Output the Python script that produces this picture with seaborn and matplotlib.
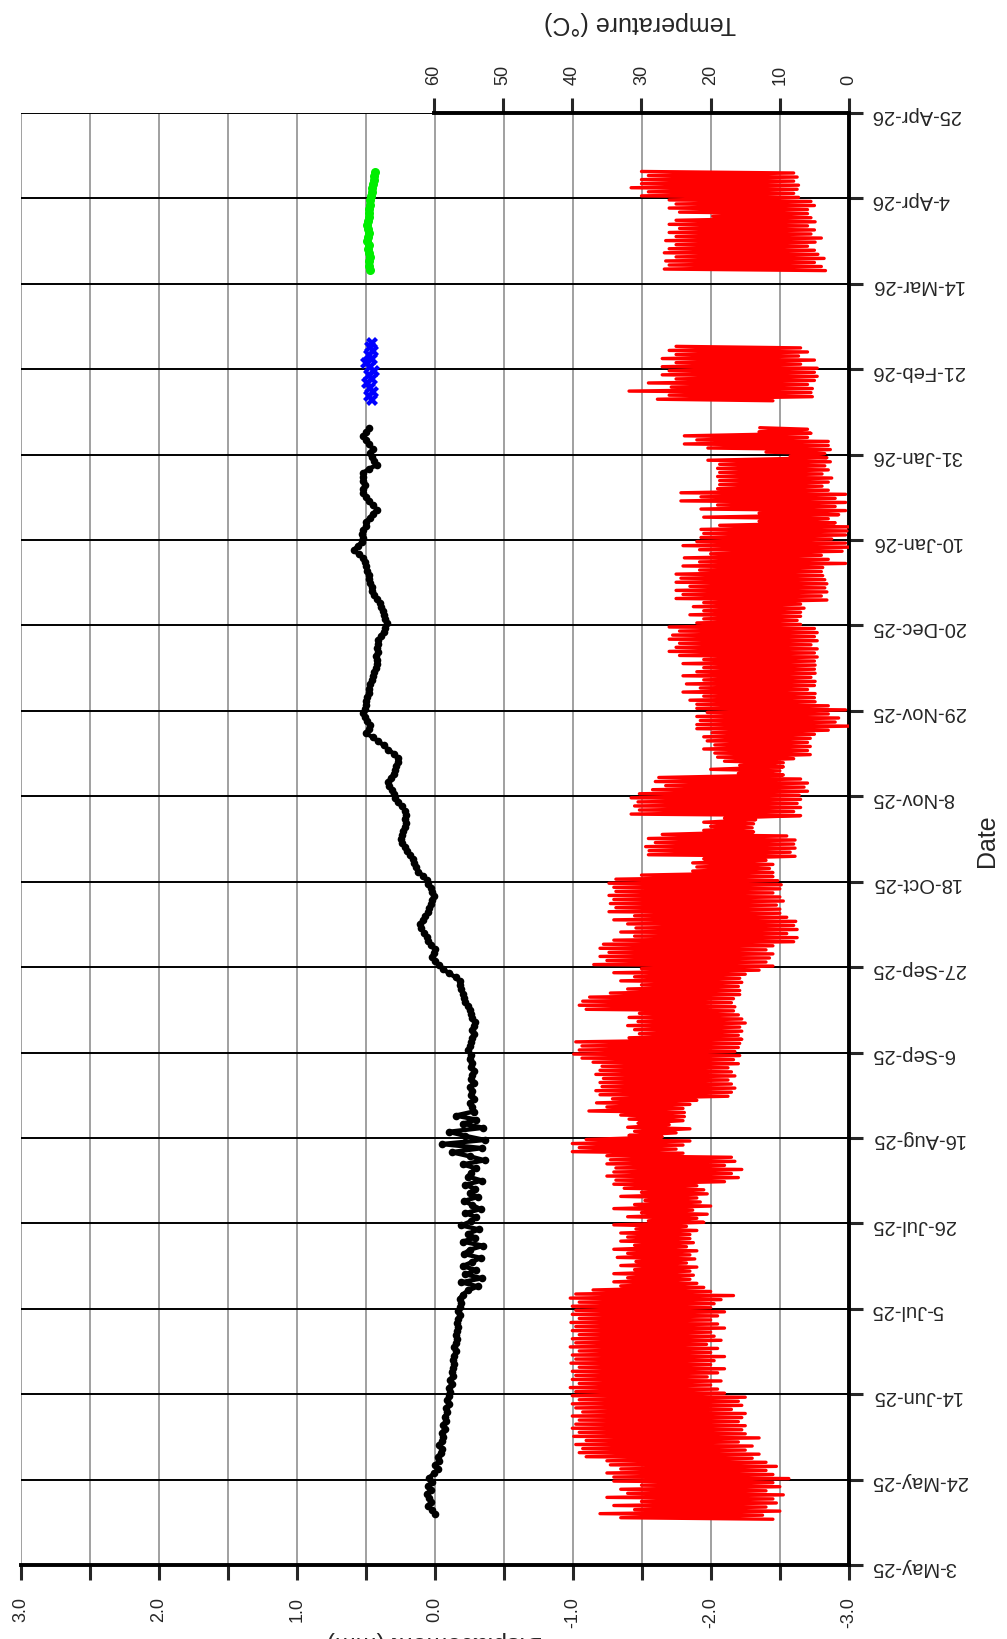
import numpy as np
import pandas as pd
import matplotlib
matplotlib.use("Agg")
import matplotlib.pyplot as plt
from matplotlib.ticker import FixedLocator, FuncFormatter
import matplotlib.dates as mdates
import seaborn as sns

# ---------------------------------------------------------------- data
# Date axis ticks (every 21 days)
date_ticks = pd.date_range("2025-05-03", periods=18, freq="21D")
disp_ticks = [-3.0, -2.5, -2.0, -1.5, -1.0, -0.5, 0.0, 0.5, 1.0, 1.5, 2.0, 2.5, 3.0]
temp_ticks = [0, 10, 20, 30, 40, 50, 60]

# Air temperature, daily minimum / maximum (deg C)
temp1_start = "2025-05-14"
temp1_max = [
    33, 36, 31, 34, 30, 35, 32, 33, 30, 34,
    34, 35, 33, 34.5, 35, 38, 39, 38.5, 39.5, 38,
    39.8, 39, 40, 39.5, 39, 40, 38.5, 39.5, 40, 39,
    40, 39.5, 40.3, 39, 40, 39.5, 40, 39, 40.2, 39.5,
    40, 39, 40.3, 39.5, 40, 39, 40, 39.5, 40.2, 39,
    40, 39.5, 40, 39, 40.3, 39.5, 37, 33, 34, 32,
    34, 31, 33, 30.8, 33.5, 32, 34, 31, 33, 32,
    33, 30.8, 34, 29, 32, 30, 34, 31, 29.5, 33,
    30, 32.5, 34, 33.7, 35, 34, 33.7, 35, 34.5, 35,
    40, 39, 40, 38, 31.8, 31, 32, 30.5, 31.8, 33,
    37.6, 35, 36.5, 34.2, 36, 36.6, 35.7, 36, 35.5, 36.6,
    36, 35.7, 37, 38.6, 39.8, 39, 38.6, 39.5, 31.8, 30.3,
    31, 32, 30.5, 31.8, 30.3, 38, 39, 38.5, 37.5, 34.5,
    32, 30, 33, 31, 34, 30, 36.9, 35, 36, 34.7,
    36, 35.5, 34, 31, 33, 30.8, 32, 34, 31, 34.7,
    33.7, 34.5, 34, 34.7, 33.7, 34, 34.7, 33.7, 30, 22.6,
    22, 22.6, 21, 29, 28.9, 29.4, 28, 29, 27, 21,
    20, 21, 18, 31.5, 30.3, 31, 30.5, 31.5, 30.3, 28.4,
    26.5, 28, 27.5, 16, 20, 15.8, 18, 19, 19.4, 21,
    19.4, 20.5, 21, 19.8, 22, 22, 21.5, 22, 20.5, 22,
    22, 23, 21, 24, 21.5, 23.5, 21, 24, 22, 21,
    24, 21, 24.5, 26, 25, 24.5, 26, 25.5, 24.5, 26,
    22, 21, 23, 21, 22.5, 21, 25, 24, 25, 23,
    25, 24.3, 25, 21.6, 24, 21.6, 23.8, 20, 21.6, 24,
    22, 21.4, 21, 21.4, 18.7, 13, 21, 13, 21.4, 19,
    24.3, 21.4, 24.3, 19, 18.7, 18.7, 19, 18.7, 19, 18.7,
    20.4, 8.5, 12, 20.4, 23.8, 22, 23.8, 13, 12.9,
]
temp1_min = [
    11, 12.5, 10, 12, 10.5, 11, 9.5, 12, 10, 11,
    8.7, 11, 12, 10.5, 12, 14, 13, 15, 14, 16,
    13, 15, 15.5, 15, 16, 15.5, 15, 17, 15.5, 16,
    15, 18, 19, 20, 18.5, 20.5, 19, 18, 20, 19.5,
    18, 20, 19, 20.6, 18.5, 19.5, 20, 18, 19, 20,
    19, 18, 20, 19.5, 18.5, 16.7, 20, 21, 22, 23,
    22.5, 23, 22, 23.5, 22.3, 23, 22, 23.5, 22.5, 23,
    23, 22, 23.5, 21, 22, 20.5, 22.6, 20, 21.5, 22,
    20.5, 21, 22, 18, 16, 17, 15.5, 18, 16.5, 17,
    24, 25, 24, 23, 27, 25, 23, 26, 24, 23.8,
    23.8, 24, 23, 22, 17.5, 17, 16.5, 17, 17.5, 16.5,
    17, 17.5, 16, 16.7, 15.8, 16.5, 16, 15.8, 15.5, 16,
    15.5, 15.8, 15, 15.5, 16, 16.7, 16.5, 17, 16.7, 15.8,
    15.8, 16, 15.5, 15.8, 15, 13, 11, 12, 11.5, 11,
    12, 11, 8, 7.5, 9, 7.5, 8, 7.7, 9, 10,
    10, 10.5, 9.5, 10, 11, 10, 9.8, 10.3, 11, 11,
    11.5, 11, 12, 7.8, 8.5, 7.8, 8, 7.8, 9, 13.8,
    14, 13.8, 13.5, 7, 8, 7, 7.5, 7, 7.2, 6,
    6.5, 6, 7, 9.5, 10, 9.5, 9.5, 8, 5.6, 6,
    5.6, 6, 5.6, 5, 3, 0, 2, 1.5, 3, 0.5,
    3, 4.9, 5, 4.9, 6, 5, 4.9, 5.5, 4.9, 5,
    4.9, 5, 4.6, 5, 4.6, 5.5, 4.6, 5, 4.6, 5,
    7, 7.5, 7, 7, 6.5, 7, 3.2, 4, 3.2, 3.5,
    3.2, 3.5, 3.8, 4, 3.8, 0.5, 3, 4, 1, 0,
    0.5, 2.5, 0.5, 0.3, 0, 2, 3, 1.5, 0.5, 2,
    0.5, 2, 0.5, 3, 3.9, 3, 2.5, 3.9, 3, 3.5,
    2.7, 3.2, 3.5, 2.7, 3, 3, 6, 5.5, 6,
]
temp2_start = "2026-02-13"
temp2_max = [27.7, 26, 31.8, 25.7, 29, 25, 27, 26, 27, 25, 27, 25, 26, 25]
temp2_min = [11, 5.3, 5.5, 5.3, 6, 5, 4.6, 5, 4.6, 7, 5, 7.3, 6, 7]
temp3_start = "2026-03-17"
temp3_max = [26.7, 26, 26.5, 25, 26.7, 26, 25, 26.5, 25, 26, 24.5, 26, 25,
             19.7, 24.5, 26, 25, 26, 30, 29, 31.5, 30, 30, 29, 30]
temp3_min = [3.4, 4, 5, 3.6, 4.5, 5, 6, 4.9, 4, 5.5, 5, 6, 4.9,
             5.5, 6, 6, 5, 5.5, 7.3, 8, 7.5, 7.3, 8, 7.5, 8]

# Displacement (mm), daily readings
disp1_start = "2025-05-15"
disp1 = [
    0.0, 0.02, 0.05, 0.03, 0.04, 0.06, 0.03, 0.05, 0.02, 0.04,
    0.01, -0.02, 0.0, -0.03, -0.02, -0.04, -0.05, -0.03, -0.05, -0.06,
    -0.05, -0.07, -0.06, -0.08, -0.07, -0.09, -0.08, -0.1, -0.09, -0.1,
    -0.11, -0.1, -0.12, -0.11, -0.13, -0.12, -0.13, -0.14, -0.13, -0.14,
    -0.15, -0.14, -0.15, -0.16, -0.15, -0.16, -0.17, -0.16, -0.17, -0.18,
    -0.17, -0.18, -0.19, -0.18, -0.2, -0.24, -0.31, -0.19, -0.34, -0.22,
    -0.3, -0.2, -0.27, -0.33, -0.21, -0.25, -0.35, -0.2, -0.29, -0.24,
    -0.32, -0.19, -0.26, -0.3, -0.22, -0.33, -0.27, -0.21, -0.31, -0.25,
    -0.29, -0.22, -0.34, -0.24, -0.26, -0.3, -0.2, -0.36, -0.25, -0.12,
    -0.34, -0.05, -0.36, -0.22, -0.1, -0.35, -0.2, -0.3, -0.15, -0.28,
    -0.27, -0.25, -0.28, -0.26, -0.27, -0.25, -0.28, -0.26, -0.27, -0.28,
    -0.26, -0.27, -0.25, -0.26, -0.24, -0.25, -0.26, -0.27, -0.28, -0.27,
    -0.28, -0.29, -0.27, -0.26, -0.25, -0.24, -0.22, -0.21, -0.2, -0.19,
    -0.18, -0.18, -0.15, -0.1, -0.06, -0.03, 0.0, 0.02, 0.01, 0.0,
    0.03, 0.05, 0.06, 0.08, 0.1, 0.11, 0.09, 0.07, 0.05, 0.04,
    0.03, 0.02, 0.01, 0.02, 0.03, 0.05, 0.06, 0.09, 0.12, 0.14,
    0.15, 0.16, 0.18, 0.2, 0.22, 0.24, 0.25, 0.24, 0.23, 0.22,
    0.21, 0.22, 0.21, 0.22, 0.24, 0.27, 0.29, 0.3, 0.31, 0.33,
    0.34, 0.32, 0.3, 0.29, 0.28, 0.27, 0.27, 0.3, 0.34, 0.37,
    0.41, 0.45, 0.5, 0.48, 0.47, 0.49, 0.51, 0.52, 0.51, 0.5,
    0.5, 0.49, 0.48, 0.48, 0.47, 0.46, 0.45, 0.44, 0.43, 0.42,
    0.42, 0.43, 0.41, 0.42, 0.41, 0.41, 0.39, 0.37, 0.36, 0.35,
    0.36, 0.37, 0.38, 0.39, 0.4, 0.42, 0.44, 0.46, 0.46, 0.47,
    0.48, 0.48, 0.49, 0.5, 0.51, 0.52, 0.55, 0.59, 0.56, 0.53,
    0.52, 0.53, 0.52, 0.5, 0.5, 0.47, 0.45, 0.42, 0.45, 0.48,
    0.5, 0.52, 0.52, 0.51, 0.52, 0.52, 0.52, 0.48, 0.42, 0.44,
    0.46, 0.47, 0.45, 0.48, 0.5, 0.52, 0.5, 0.476,
]
disp2_start = "2026-02-13"
disp2 = [0.46, 0.48, 0.45, 0.47, 0.49, 0.46, 0.48, 0.44, 0.47, 0.5,
         0.46, 0.48, 0.45, 0.47, 0.46]
disp3_start = "2026-03-17"
disp3 = [0.47, 0.475, 0.48, 0.47, 0.48, 0.485, 0.48, 0.49, 0.485, 0.48,
         0.485, 0.49, 0.485, 0.48, 0.48, 0.475, 0.47, 0.47, 0.465, 0.46,
         0.455, 0.45, 0.445, 0.44, 0.435]


def temp_frame(start, tmin, tmax):
    days = pd.date_range(start, periods=len(tmin), freq="D")
    rows = []
    for d, lo, hi in zip(days, tmin, tmax):
        rows.append((d + pd.Timedelta(hours=6), lo))
        rows.append((d + pd.Timedelta(hours=15), hi))
    return pd.DataFrame(rows, columns=["date", "temp"])


def disp_frame(start, vals):
    days = pd.date_range(start, periods=len(vals), freq="D") + pd.Timedelta(hours=12)
    return pd.DataFrame({"date": days, "disp": vals})


# ---------------------------------------------------------------- figure
sns.set_style("white")
plt.rcParams["font.family"] = ["Liberation Sans", "DejaVu Sans"]

W, H = 1007, 1639
fig = plt.figure(figsize=(W / 100, H / 100), dpi=100)
ax = fig.add_axes([21 / W, 74 / H, 828 / W, 1452 / H])
ax2 = ax.twiny()

# temperature traces (upper axis, 0 at the right)
for start, lo, hi in [(temp1_start, temp1_min, temp1_max),
                      (temp2_start, temp2_min, temp2_max),
                      (temp3_start, temp3_min, temp3_max)]:
    sns.lineplot(data=temp_frame(start, lo, hi), x="temp", y="date", sort=False,
                 estimator=None, color="#ff0000", lw=2.4, ax=ax2, legend=False)

# displacement traces (lower axis)
sns.lineplot(data=disp_frame(disp1_start, disp1), x="disp", y="date", sort=False,
             estimator=None, color="black", lw=3.2, marker="o", markersize=5.5,
             markeredgewidth=0, ax=ax, legend=False)
sns.lineplot(data=disp_frame(disp2_start, disp2), x="disp", y="date", sort=False,
             estimator=None, color="#0000ff", lw=2.5, marker="X", markersize=8,
             markeredgewidth=0, ax=ax, legend=False)
sns.lineplot(data=disp_frame(disp3_start, disp3), x="disp", y="date", sort=False,
             estimator=None, color="#00ee00", lw=2.5, marker="o", markersize=6.5,
             markeredgewidth=0, ax=ax, legend=False)

# ---- date axis (vertical, labels on the right)
ax.set_ylim(date_ticks[0], date_ticks[-1])
ax.yaxis.set_major_locator(FixedLocator(mdates.date2num(date_ticks)))
ax.yaxis.set_major_formatter(FuncFormatter(
    lambda v, p: (lambda d: f"{d.day}-{d:%b-%y}")(mdates.num2date(v))))
ax.yaxis.tick_right()
ax.tick_params(axis="y", direction="out", length=10, width=2.2, pad=6,
               labelsize=14.5, labelrotation=180, right=True, left=False)
ax.set_ylabel("")

# ---- displacement axis (bottom, reversed)
ax.set_xlim(3.0, -3.0)
ax.xaxis.set_major_locator(FixedLocator(disp_ticks))
ax.xaxis.set_major_formatter(FuncFormatter(
    lambda v, p: f"{v:.1f}" if abs(v - round(v)) < 1e-6 else ""))
ax.tick_params(axis="x", direction="out", length=11, width=2.2, pad=12,
               labelsize=13, labelrotation=90, bottom=True)
ax.set_xlabel("")

ax.grid(axis="x", color="#a0a0a0", lw=1.4)
ax.grid(axis="y", color="black", lw=1.4)
ax.set_axisbelow(True)
for s in ["top", "left"]:
    ax.spines[s].set_visible(False)
for s in ["bottom", "right"]:
    ax.spines[s].set_linewidth(2.8)
    ax.spines[s].set_color("black")

# ---- temperature axis (top, reversed, only 0..60 drawn)
ax2.set_xlim(60 + 413 / 6.917, 0)
ax2.xaxis.set_major_locator(FixedLocator(temp_ticks))
ax2.tick_params(axis="x", direction="out", length=11, width=2.2, pad=9,
                labelsize=13, labelrotation=90, top=True)
ax2.set_xlabel("")
for s in ["bottom", "left", "right"]:
    ax2.spines[s].set_visible(False)
ax2.spines["top"].set_bounds(0, 60)
ax2.spines["top"].set_linewidth(2.8)
ax2.spines["top"].set_color("black")
for lbl in ax2.get_xticklabels():
    lbl.set_va("bottom")

# ---- axis titles
fig.text(640 / W, 1 - 23 / H, "Temperature (°C)", rotation=180,
         ha="center", va="center", fontsize=18)
fig.text(987 / W, 1 - 841 / H, "Date", rotation=90,
         ha="center", va="center", fontsize=18)
fig.text(435 / W, 1 - 1631 / H, "Displacement (mm)", rotation=180,
         ha="center", va="top", fontsize=18)

fig.savefig("out.png", dpi=100, facecolor="white")
